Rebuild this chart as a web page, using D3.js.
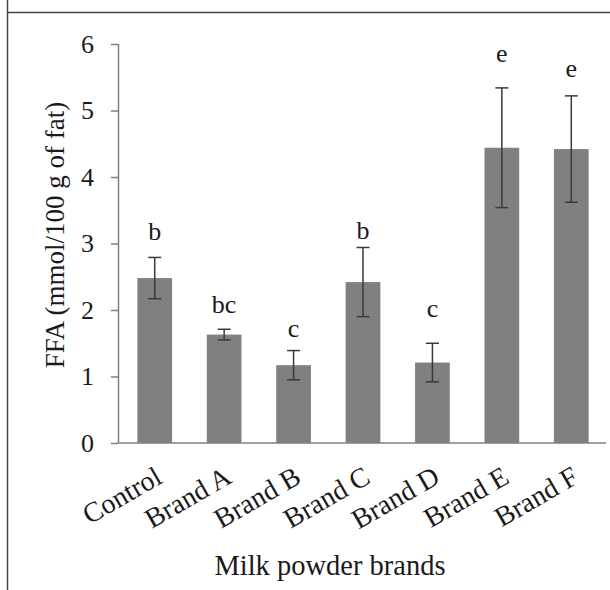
<!DOCTYPE html>
<html>
<head>
<meta charset="utf-8">
<script src="https://cdn.jsdelivr.net/npm/d3@7"></script>
<style>
  html, body { margin: 0; padding: 0; background: #fff; }
  svg { display: block; }
  text { font-family: "Liberation Serif", "Times New Roman", Times, serif; fill: #1a1a1a; }
</style>
</head>
<body>
<svg id="chart" width="610" height="590"></svg>
<script>
// ---- data ----
const categories = ["Control", "Brand A", "Brand B", "Brand C", "Brand D", "Brand E", "Brand F"];
const means      = [2.48, 1.63, 1.17, 2.42, 1.21, 4.44, 4.42];
const errors     = [0.31, 0.08, 0.22, 0.52, 0.29, 0.90, 0.80];
const letters    = ["b", "bc", "c", "b", "c", "e", "e"];
const letterLevels = [3.05, 1.95, 1.59, 3.07, 1.89, 5.73, 5.50];
const yTicks     = [0, 1, 2, 3, 4, 5, 6];
const yTitle = "FFA (mmol/100 g of fat)";
const xTitle = "Milk powder brands";

// ---- layout ----
const svg = d3.select("#chart");
const W = 610, H = 590;
const FONT = '"Liberation Serif", "Times New Roman", Times, serif';

// frame lines
svg.append("line").attr("x1", 7.5).attr("x2", 7.5).attr("y1", 0).attr("y2", H)
  .attr("stroke", "#444").attr("stroke-width", 1.5);
svg.append("line").attr("x1", 7.5).attr("x2", W).attr("y1", 12.5).attr("y2", 12.5)
  .attr("stroke", "#444").attr("stroke-width", 1.5);

const x = d3.scaleBand().domain(categories).range([120, 606]).paddingInner(0.5).paddingOuter(0.25);
const y = d3.scaleLinear().domain([0, 6]).range([443, 44]);
const axisX0 = 118;

// bars
svg.append("g").selectAll("rect").data(categories).join("rect")
  .attr("x", d => x(d))
  .attr("width", x.bandwidth())
  .attr("y", (d, i) => y(means[i]))
  .attr("height", (d, i) => y(0) - y(means[i]))
  .attr("fill", "#808080");

// error bars
const eb = svg.append("g").attr("stroke", "#3a3a3a").attr("stroke-width", 1.5);
categories.forEach((c, i) => {
  const cx = x(c) + x.bandwidth() / 2;
  const top = y(means[i] + errors[i]), bot = y(means[i] - errors[i]);
  eb.append("line").attr("x1", cx).attr("x2", cx).attr("y1", top).attr("y2", bot);
  eb.append("line").attr("x1", cx - 6.5).attr("x2", cx + 6.5).attr("y1", top).attr("y2", top);
  eb.append("line").attr("x1", cx - 6.5).attr("x2", cx + 6.5).attr("y1", bot).attr("y2", bot);
});

// y axis
const yAxis = svg.append("g").attr("transform", `translate(${axisX0},0)`)
  .call(d3.axisLeft(y).tickValues(yTicks).tickFormat(d3.format("d")).tickSize(7).tickPadding(17));
yAxis.select(".domain").attr("stroke", "#808080").attr("stroke-width", 1.5).attr("d", `M0.5,${y(6)}V${y(0)}`);
yAxis.selectAll(".tick line").attr("stroke", "#808080").attr("stroke-width", 1.5);
yAxis.selectAll(".tick text").attr("font-size", 26).attr("font-family", FONT).attr("fill", "#1a1a1a");

// x axis line
svg.append("line").attr("x1", axisX0).attr("x2", x.range()[1]).attr("y1", y(0)).attr("y2", y(0))
  .attr("stroke", "#808080").attr("stroke-width", 1.5);

// x category labels
svg.append("g").selectAll("text").data(categories).join("text")
  .attr("transform", d => `translate(${x(d) + x.bandwidth() / 2 + 9},${y(0) + 39}) rotate(-30)`)
  .attr("text-anchor", "end")
  .attr("font-size", 28)
  .text(d => d);

// letters
svg.append("g").selectAll("text").data(categories).join("text")
  .attr("x", d => x(d) + x.bandwidth() / 2)
  .attr("y", (d, i) => y(letterLevels[i]))
  .attr("text-anchor", "middle")
  .attr("font-size", 26)
  .text((d, i) => letters[i]);

// axis titles
svg.append("text")
  .attr("transform", `translate(64,235) rotate(-90)`)
  .attr("text-anchor", "middle")
  .attr("font-size", 27)
  .text(yTitle);
svg.append("text")
  .attr("x", 330).attr("y", 575)
  .attr("text-anchor", "middle")
  .attr("font-size", 28.5)
  .text(xTitle);
</script>
</body>
</html>
